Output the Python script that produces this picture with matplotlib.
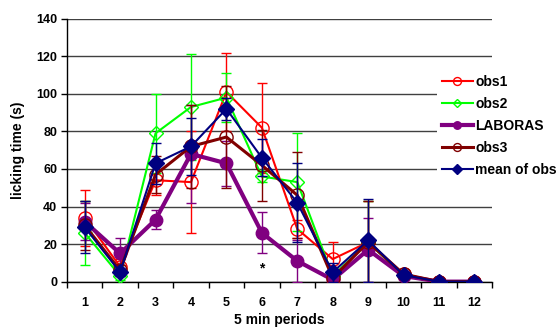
import numpy as np
import matplotlib
matplotlib.use("Agg")
import matplotlib.pyplot as plt
from matplotlib.lines import Line2D

# values
periods = np.arange(1, 13)

obs1 = [34, 8, 54, 53, 101, 82, 28, 12, 21, 4, 0, 0]
obs1_err = [15, 4, 8, 27, 21, 24, 5, 9, 22, 1, 0, 0]
obs2 = [26, 3, 79, 93, 98, 56, 53, 3, 21, 3, 0, 0]
obs2_err = [17, 2, 21, 28, 13, 3, 26, 2, 22, 1, 0, 0]
laboras = [32, 15, 33, 68, 63, 26, 11, 1, 17, 3, 0, 0]
laboras_err = [10, 8, 5, 26, 12, 11, 11, 1, 17, 1, 0, 0]
obs3 = [30, 6, 57, 72, 77, 62, 46, 2, 21, 4, 0, 0]
obs3_err = [13, 3, 10, 22, 27, 19, 23, 2, 22, 1, 0, 0]
mean_obs = [29, 5, 63, 72, 92, 66, 42, 5, 22, 3.5, 0, 0]
mean_err = [14, 2, 11, 15, 6, 10, 21, 5, 22, 1, 0, 0]

plt.rcParams['font.family'] = ['Liberation Sans', 'DejaVu Sans']
plt.rcParams['font.weight'] = 'bold'

fig = plt.figure(figsize=(5.58, 3.29), dpi=100)
ax = fig.add_axes([0.12, 0.144, 0.762, 0.799])

series = [
    (obs1, obs1_err, 'obs1', '#FF0000', 'o', 'none', 1.5, 9.5),
    (obs2, obs2_err, 'obs2', '#00FF00', 'D', 'none', 1.5, 7.5),
    (laboras, laboras_err, 'LABORAS', '#800080', 'o', '#800080', 3.0, 9),
    (obs3, obs3_err, 'obs3', '#800000', 'o', 'none', 2.2, 9.5),
    (mean_obs, mean_err, 'mean of obs', '#000080', 'D', '#000080', 1.5, 8.5),
]

handles = []
for i, (vals, err, name, col, mk, fc, lw, ms) in enumerate(series):
    ax.errorbar(periods, vals, yerr=err, color=col, lw=lw, marker=mk,
                markersize=ms, markerfacecolor=fc, markeredgecolor=col,
                markeredgewidth=1.0, ecolor=col, elinewidth=1.0,
                capsize=3.5, capthick=1.0, zorder=3 + i)
    # legend shows line + marker only, no error bars
    handles.append(Line2D([], [], color=col, lw=lw, marker=mk,
                          markersize=ms * 0.6, markerfacecolor=fc,
                          markeredgecolor=col, markeredgewidth=1.0,
                          label=name))

ax.text(6, 7, '*', ha='center', va='center', fontsize=10, color='black')

ax.set_xlim(0.5, 12.5)
ax.set_ylim(0, 140)
ax.set_yticks(np.arange(0, 141, 20))
ax.set_xticks(periods)
ax.set_xticks(np.arange(0.5, 12.6, 1), minor=True)
ax.tick_params(axis='x', which='major', length=0, pad=11, labelsize=9)
ax.tick_params(axis='x', which='minor', length=4, direction='out', width=1)
ax.tick_params(axis='y', length=4, direction='out', width=1, labelsize=9, pad=3)
ax.grid(axis='y', color='#404040', lw=1.0, zorder=0)
ax.set_axisbelow(True)

for s in ['top', 'right']:
    ax.spines[s].set_visible(False)
for s in ['left', 'bottom']:
    ax.spines[s].set_linewidth(1.0)

ax.set_xlabel('5 min periods', fontsize=10, fontweight='bold', labelpad=3)
ax.set_ylabel('licking time (s)', fontsize=10, fontweight='bold', labelpad=8)

leg = fig.legend(handles=handles, loc='upper left',
                 bbox_to_anchor=(437 / 558, 1 - 70 / 329),
                 bbox_transform=fig.transFigure, borderaxespad=0,
                 frameon=True, facecolor='white', edgecolor='none',
                 framealpha=1, fancybox=False, fontsize=10,
                 handlelength=2.2, handletextpad=0.2, labelspacing=0.58,
                 borderpad=0.36)
leg.set_zorder(20)

fig.savefig('out.png', dpi=100)
